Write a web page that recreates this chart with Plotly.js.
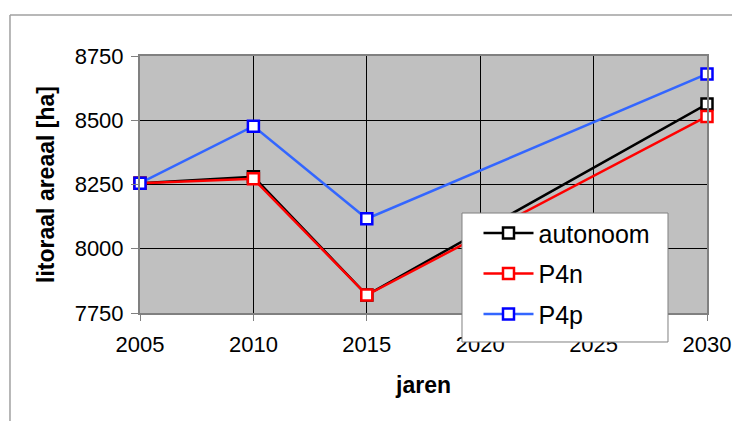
<!DOCTYPE html>
<html>
<head>
<meta charset="utf-8">
<script src="https://cdn.plot.ly/plotly-3.0.1.min.js"></script>
<style>html,body{margin:0;padding:0;background:#fff;}#chart{width:732px;height:421px;}</style>
</head>
<body>
<div id="chart"></div>
<script>
const years = [2005, 2010, 2015, 2030];
const autonoom = [8255, 8280, 7820, 8563];
const p4n = [8255, 8272, 7820, 8515];
const p4p = [8255, 8477, 8117, 8680];
const xTicks = [2005, 2010, 2015, 2020, 2025, 2030];
const yTicks = [7750, 8000, 8250, 8500, 8750];

function series(name, y, lineColor, markerColor, grp) {
  return {
    x: years, y: y, name: name, type: 'scatter', mode: 'lines+markers',
    legendgroup: grp,
    line: {color: lineColor, width: 2.5},
    marker: {symbol: 'square', size: 11, color: '#ffffff', line: {color: markerColor, width: 2.5}},
    cliponaxis: false
  };
}
const data = [
  series('autonoom', autonoom, '#000000', '#000000', 'a'),
  series('P4n', p4n, '#ff0000', '#ff0000', 'b'),
  series('P4p', p4p, '#3366ff', '#0000ff', 'c')
];
const font = {family: 'Liberation Sans, Arial, sans-serif', color: '#000000'};
const layout = {
  width: 732, height: 421,
  margin: {l: 140, r: 25, t: 56, b: 108},
  paper_bgcolor: '#ffffff', plot_bgcolor: '#c0c0c0',
  font: font,
  showlegend: true,
  legend: {
    x: 0.597, y: 0.40, xanchor: 'left', yanchor: 'top',
    bgcolor: 'rgba(0,0,0,0)', borderwidth: 0,
    font: {family: font.family, size: 25, color: '#000'},
    traceorder: 'grouped', tracegroupgap: 5, itemwidth: 50
  },
  xaxis: {
    range: [2005, 2030], tickvals: xTicks, ticktext: xTicks.map(String),
    showgrid: true, gridcolor: '#000000', gridwidth: 1,
    showline: true, linecolor: '#808080', linewidth: 2, mirror: true,
    ticks: 'outside', ticklen: 6, tickcolor: '#808080', tickwidth: 1,
    ticklabelstandoff: 5,
    tickfont: {family: font.family, size: 22, color: '#000'},
    zeroline: false,
    title: {text: '<b>jaren</b>', font: {family: font.family, size: 23, color: '#000'}, standoff: 20}
  },
  yaxis: {
    range: [7750, 8750], tickvals: yTicks, ticktext: yTicks.map(String),
    showgrid: true, gridcolor: '#000000', gridwidth: 1,
    showline: true, linecolor: '#808080', linewidth: 2, mirror: true,
    ticks: 'outside', ticklen: 7, tickcolor: '#808080', tickwidth: 1,
    ticklabelstandoff: 3,
    tickfont: {family: font.family, size: 22, color: '#000'},
    zeroline: false,
    title: {text: '<b>litoraal areaal [ha]</b>', font: {family: font.family, size: 23, color: '#000'}, standoff: 14}
  },
  shapes: [
    {type: 'line', xref: 'paper', yref: 'paper', x0: -0.2293, x1: 1.1, y0: 1.1595, y1: 1.1595, line: {color: '#a0a0a0', width: 1.5}},
    {type: 'line', xref: 'paper', yref: 'paper', x0: -0.2293, x1: -0.2293, y0: 1.1595, y1: -0.5, line: {color: '#a0a0a0', width: 1.5}},
    {type: 'rect', xref: 'paper', yref: 'paper', layer: 'above', x0: 0.5679, x1: 0.9312, y0: -0.1128, y1: 0.389,
     fillcolor: '#ffffff', line: {color: '#808080', width: 1}}
  ]
};
Plotly.newPlot('chart', data, layout, {displayModeBar: false, staticPlot: true});
</script>
</body>
</html>
